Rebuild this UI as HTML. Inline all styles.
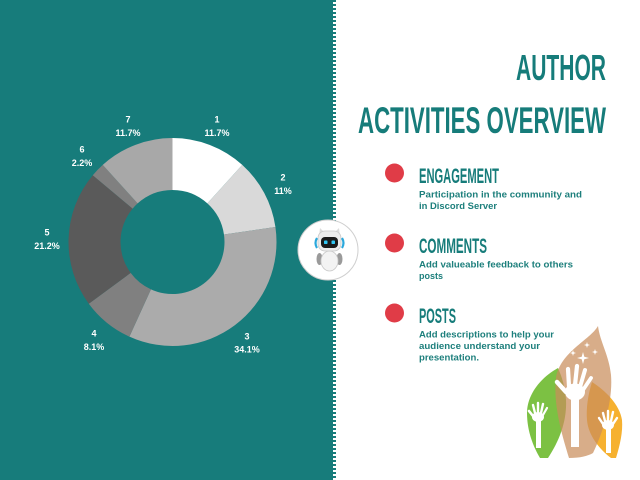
<!DOCTYPE html>
<html>
<head>
<meta charset="utf-8">
<style>
html,body{margin:0;padding:0;background:#fff;}
svg{display:block;}
</style>
</head>
<body>
<svg width="640" height="480" viewBox="0 0 640 480" xmlns="http://www.w3.org/2000/svg">
  <rect x="0" y="0" width="640" height="480" fill="#ffffff"/>
  <!-- teal panel -->
  <rect x="0" y="0" width="333" height="480" fill="#177c7b"/>
  <line x1="334.5" y1="0" x2="334.5" y2="480" stroke="#177c7b" stroke-width="3" stroke-dasharray="2 2"/>

  <!-- donut -->
  <g stroke="none">
    <path d="M172.5,138 A104,104 0 0 1 242.25,164.86 L207.38,203.43 A52,52 0 0 0 172.5,190 Z" fill="#ffffff"/>
    <path d="M242.25,164.86 A104,104 0 0 1 275.42,227.02 L223.96,234.51 A52,52 0 0 0 207.38,203.43 Z" fill="#d9d9d9"/>
    <path d="M275.42,227.02 A104,104 0 0 1 129.41,336.65 L150.95,289.33 A52,52 0 0 0 223.96,234.51 Z" fill="#ababab"/>
    <path d="M129.41,336.65 A104,104 0 0 1 88.79,303.72 L130.65,272.86 A52,52 0 0 0 150.95,289.33 Z" fill="#808080"/>
    <path d="M88.79,303.72 A104,104 0 0 1 92.78,175.21 L132.64,208.60 A52,52 0 0 0 130.65,272.86 Z" fill="#5a5a5a"/>
    <path d="M92.78,175.21 A104,104 0 0 1 102.75,164.86 L137.62,203.43 A52,52 0 0 0 132.64,208.60 Z" fill="#808080"/>
    <path d="M102.75,164.86 A104,104 0 0 1 172.5,138 L172.5,190 A52,52 0 0 0 137.62,203.43 Z" fill="#a8a8a8"/>
  </g>

  <!-- donut labels -->
  <g font-family="'Liberation Sans', sans-serif" font-weight="bold" font-size="9" fill="#ffffff" text-anchor="middle">
    <text x="217" y="122.5">1</text><text x="217" y="136">11.7%</text>
    <text x="283" y="180.5">2</text><text x="283" y="194">11%</text>
    <text x="247" y="339.5">3</text><text x="247" y="352.5">34.1%</text>
    <text x="94" y="336.5">4</text><text x="94" y="350">8.1%</text>
    <text x="47" y="235.5">5</text><text x="47" y="249">21.2%</text>
    <text x="82" y="152.5">6</text><text x="82" y="166">2.2%</text>
    <text x="128" y="122.5">7</text><text x="128" y="136">11.7%</text>
  </g>

  <!-- robot badge -->
  <circle cx="328" cy="250" r="30" fill="#ffffff" stroke="#cfcfcf" stroke-width="1"/>
  <g>
    <!-- arms -->
    <ellipse cx="319.5" cy="259" rx="3" ry="6" fill="#9a9a9a"/>
    <ellipse cx="339.5" cy="259" rx="3" ry="6" fill="#9a9a9a"/>
    <!-- body -->
    <ellipse cx="329.5" cy="261" rx="8.5" ry="10" fill="#f3f3f3" stroke="#c9c9c9" stroke-width="0.8"/>
    <!-- ears -->
    <path d="M319,236 L320,228 L325,233 Z" fill="#dcdcdc"/>
    <path d="M340,236 L339,228 L334,233 Z" fill="#dcdcdc"/>
    <!-- head -->
    <rect x="318" y="231" width="23" height="20" rx="7" fill="#ececec" stroke="#c9c9c9" stroke-width="0.8"/>
    <!-- headphones -->
    <path d="M317,238 Q314,243 317,248" stroke="#2aa8dc" stroke-width="2.2" fill="none"/>
    <path d="M342,238 Q345,243 342,248" stroke="#2aa8dc" stroke-width="2.2" fill="none"/>
    <!-- visor -->
    <rect x="321" y="237" width="17" height="11" rx="4" fill="#1b1b1b"/>
    <rect x="324" y="240.5" width="3.5" height="3.5" rx="0.8" fill="#30c8f5"/>
    <rect x="331.5" y="240.5" width="3.5" height="3.5" rx="0.8" fill="#30c8f5"/>
  </g>

  <!-- titles -->
  <g font-family="'Liberation Sans Narrow','Liberation Sans', sans-serif" font-weight="bold" fill="#167c7a">
    <text x="516" y="80" font-size="36" textLength="90" lengthAdjust="spacingAndGlyphs">AUTHOR</text>
    <text x="358" y="133" font-size="37" textLength="248" lengthAdjust="spacingAndGlyphs">ACTIVITIES OVERVIEW</text>
    <text x="419" y="183" font-size="21" textLength="80" lengthAdjust="spacingAndGlyphs">ENGAGEMENT</text>
    <text x="419" y="253" font-size="21" textLength="68" lengthAdjust="spacingAndGlyphs">COMMENTS</text>
    <text x="419" y="323" font-size="21" textLength="37" lengthAdjust="spacingAndGlyphs">POSTS</text>
  </g>

  <!-- bullets -->
  <circle cx="394.5" cy="173" r="9.5" fill="#e03c47"/>
  <circle cx="394.5" cy="243" r="9.5" fill="#e03c47"/>
  <circle cx="394.5" cy="313" r="9.5" fill="#e03c47"/>

  <!-- descriptions -->
  <g font-family="'Liberation Sans', sans-serif" font-weight="bold" font-size="9.5" fill="#1d7f7c">
    <text x="419" y="197.5" textLength="163" lengthAdjust="spacingAndGlyphs">Participation in the community and</text>
    <text x="419" y="209" textLength="78" lengthAdjust="spacingAndGlyphs">in Discord Server</text>
    <text x="419" y="267.5" textLength="154" lengthAdjust="spacingAndGlyphs">Add valueable feedback to others</text>
    <text x="419" y="279" textLength="24" lengthAdjust="spacingAndGlyphs">posts</text>
    <text x="419" y="337.5" textLength="135" lengthAdjust="spacingAndGlyphs">Add descriptions to help your</text>
    <text x="419" y="349" textLength="121" lengthAdjust="spacingAndGlyphs">audience understand your</text>
    <text x="419" y="360.5" textLength="60" lengthAdjust="spacingAndGlyphs">presentation.</text>
  </g>

  <!-- hands logo -->
  <g>
    <path d="M558,368 C540,378 527,395 527,413 C527,432 534,448 540,458 L548,458 C560,440 567,420 566,400 C565,385 561,375 558,368 Z" fill="#7cc143"/>
    <path d="M592,382 C588,395 586,408 587,420 C588,435 600,450 611,458 L616,458 C620,445 623,432 622,420 C620,405 605,390 592,382 Z" fill="#f6b130"/>
    <path d="M598,326 C590,340 560,352 556,378 C553,405 562,435 569,458 C580,458 588,456 593,453 C604,430 613,400 611,375 C609,355 600,342 598,326 Z" fill="#c98e5c" fill-opacity="0.72"/>
    <!-- big hand -->
    <g fill="#ffffff" stroke="#ffffff" stroke-linecap="round">
      <ellipse cx="575" cy="392" rx="10" ry="8.5" stroke="none"/>
      <path d="M571,398 L571,447 L579,447 L579,398 Z" stroke="none"/>
      <line x1="566" y1="392" x2="557" y2="382" stroke-width="4.5"/>
      <line x1="569" y1="386" x2="568" y2="369" stroke-width="4.2"/>
      <line x1="575" y1="385" x2="577" y2="366" stroke-width="4.2"/>
      <line x1="580" y1="387" x2="585" y2="370" stroke-width="4"/>
      <line x1="583" y1="390" x2="591" y2="378" stroke-width="3.8"/>
    </g>
    <!-- left small hand -->
    <g fill="#ffffff" stroke="#ffffff" stroke-linecap="round">
      <ellipse cx="538" cy="417" rx="6" ry="5" stroke="none"/>
      <path d="M536,419 L536,448 L541,448 L541,419 Z" stroke="none"/>
      <line x1="533" y1="416" x2="529" y2="411" stroke-width="2.6"/>
      <line x1="535" y1="413" x2="533" y2="405" stroke-width="2.4"/>
      <line x1="538" y1="412" x2="538" y2="403" stroke-width="2.4"/>
      <line x1="541" y1="413" x2="543" y2="404" stroke-width="2.4"/>
      <line x1="543" y1="415" x2="547" y2="408" stroke-width="2.2"/>
    </g>
    <!-- right small hand -->
    <g fill="#ffffff" stroke="#ffffff" stroke-linecap="round">
      <ellipse cx="608" cy="425" rx="6" ry="5" stroke="none"/>
      <path d="M606,427 L606,453 L611,453 L611,427 Z" stroke="none"/>
      <line x1="603" y1="424" x2="599" y2="418" stroke-width="2.4"/>
      <line x1="605" y1="421" x2="603" y2="413" stroke-width="2.4"/>
      <line x1="608" y1="420" x2="608" y2="411" stroke-width="2.4"/>
      <line x1="611" y1="421" x2="613" y2="412" stroke-width="2.4"/>
      <line x1="613" y1="424" x2="617" y2="418" stroke-width="2.4"/>
    </g>
    <!-- stars -->
    <g fill="#ffffff">
      <path d="M583,352 L584.3,356.7 L589,358 L584.3,359.3 L583,364 L581.7,359.3 L577,358 L581.7,356.7 Z"/>
      <path d="M587,342 L587.7,344.3 L590,345 L587.7,345.7 L587,348 L586.3,345.7 L584,345 L586.3,344.3 Z"/>
      <path d="M573,350 L573.7,352.3 L576,353 L573.7,353.7 L573,356 L572.3,353.7 L570,353 L572.3,352.3 Z"/>
      <path d="M595,349 L595.7,351.3 L598,352 L595.7,352.7 L595,355 L594.3,352.7 L592,352 L594.3,351.3 Z"/>
    </g>
  </g>
</svg>
</body>
</html>
